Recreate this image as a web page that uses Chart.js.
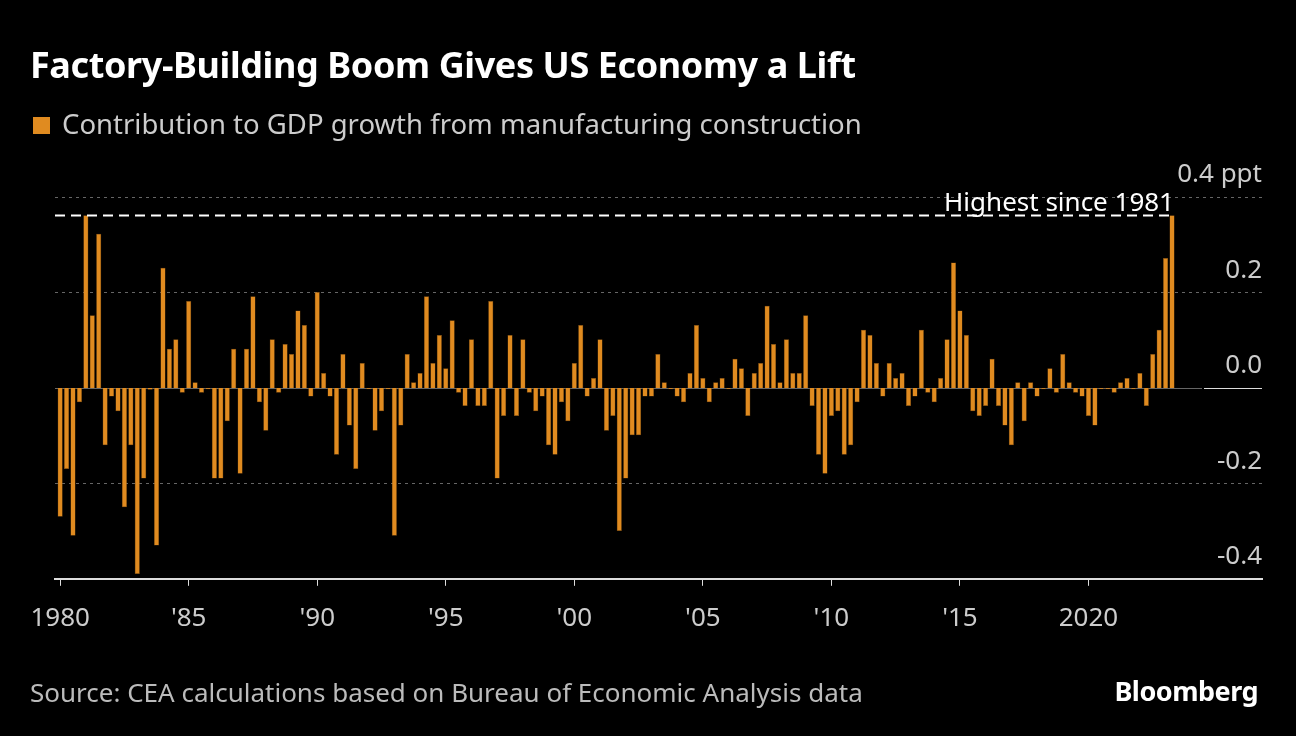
<!DOCTYPE html>
<html>
<head>
<meta charset="utf-8">
<script src="https://cdn.jsdelivr.net/npm/chart.js@4"></script>
<style>
  body { margin: 0; background: #000; width: 1296px; height: 736px; overflow: hidden; font-family: "Noto Sans", sans-serif; }
  #wrap { position: absolute; left: 0; top: 0; width: 1296px; height: 736px; }
  .title { position: absolute; left: 30px; top: 40px; color: #fff; font-size: 36px; font-weight: bold; letter-spacing: -0.4px; }
  .legend { position: absolute; left: 33px; top: 105px; color: #ccc; font-size: 27.5px; }
  .legend span { display: inline-block; width: 17px; height: 17px; background: #e08b20; margin-right: 12px; }
  .source { position: absolute; left: 30px; top: 674px; color: #bbb; font-size: 26px; }
  .brand { position: absolute; right: 38px; top: 672px; color: #fff; font-size: 27px; font-weight: bold; letter-spacing: -0.5px; }
</style>
</head>
<body>
<div id="wrap"><canvas id="chart" width="1296" height="736"></canvas></div>
<div class="title">Factory-Building Boom Gives US Economy a Lift</div>
<div class="legend"><span></span>Contribution to GDP growth from manufacturing construction</div>
<div class="source">Source: CEA calculations based on Bureau of Economic Analysis data</div>
<div class="brand">Bloomberg</div>
<script>
// quarterly values, 1980 Q1 onwards (ppt)
const startYear = 1980;
const contribution = [
  -0.27, -0.17, -0.31, -0.03, 0.362, 0.152, 0.323, -0.12,
  -0.018, -0.049, -0.25, -0.12, -0.39, -0.19, -0.004, -0.33,
  0.252, 0.082, 0.102, -0.01, 0.182, 0.012, -0.01, -0.003,
  -0.19, -0.19, -0.07, 0.082, -0.18, 0.082, 0.192, -0.03,
  -0.09, 0.102, -0.01, 0.092, 0.071, 0.162, 0.132, -0.018,
  0.201, 0.031, -0.018, -0.14, 0.071, -0.079, -0.17, 0.052,
  -0.003, -0.09, -0.049, -0.003, -0.31, -0.079, 0.071, 0.012,
  0.031, 0.192, 0.052, 0.111, 0.041, 0.142, -0.01, -0.038,
  0.102, -0.038, -0.038, 0.182, -0.19, -0.059, 0.111, -0.059,
  0.102, -0.01, -0.049, -0.018, -0.12, -0.14, -0.03, -0.07,
  0.052, 0.132, -0.018, 0.021, 0.102, -0.09, -0.059, -0.30,
  -0.19, -0.099, -0.099, -0.018, -0.018, 0.071, 0.012, -0.003,
  -0.018, -0.03, 0.031, 0.132, 0.021, -0.03, 0.012, 0.021,
  -0.003, 0.061, 0.041, -0.059, 0.031, 0.052, 0.172, 0.092,
  0.012, 0.102, 0.031, 0.031, 0.152, -0.038, -0.14, -0.18,
  -0.059, -0.049, -0.14, -0.12, -0.03, 0.122, 0.111, 0.052,
  -0.018, 0.052, 0.021, 0.031, -0.038, -0.018, 0.122, -0.01,
  -0.03, 0.021, 0.102, 0.263, 0.162, 0.111, -0.049, -0.059,
  -0.038, 0.061, -0.038, -0.079, -0.12, 0.012, -0.07, 0.012,
  -0.018, -0.003, 0.041, -0.01, 0.071, 0.012, -0.01, -0.018,
  -0.059, -0.079, -0.003, -0.003, -0.01, 0.012, 0.021, -0.003,
  0.031, -0.038, 0.071, 0.122, 0.272, 0.362
];
const xTickYears = [1980, 1985, 1990, 1995, 2000, 2005, 2010, 2015, 2020];
const xTickLabels = ["1980", "'85", "'90", "'95", "'00", "'05", "'10", "'15", "2020"];
const yTicks = [-0.4, -0.2, 0, 0.2, 0.4];
const yTickLabels = ["-0.4", "-0.2", "0.0", "0.2", "0.4 ppt"];
const highest = 0.362;
const highestLabel = "Highest since 1981";

const points = contribution.map((v, i) => ({ x: startYear + i / 4, y: v }));

const overlay = {
  id: "overlay",
  beforeDatasetsDraw(chart) {
    const { ctx, chartArea: a, scales: { y } } = chart;
    ctx.save();
    ctx.lineWidth = 1;
    yTicks.forEach(t => {
      if (t === 0 || t === -0.4) return;
      const py = Math.round(y.getPixelForValue(t)) + 0.5;
      ctx.strokeStyle = "#666";
      ctx.setLineDash([3, 4]);
      ctx.beginPath(); ctx.moveTo(a.left, py); ctx.lineTo(a.right, py); ctx.stroke();
    });
    ctx.setLineDash([]);
    const z = Math.round(y.getPixelForValue(0)) + 0.5;
    ctx.strokeStyle = "#666";
    ctx.beginPath(); ctx.moveTo(a.left, z); ctx.lineTo(a.right - 60, z); ctx.stroke();
    ctx.strokeStyle = "#ddd";
    ctx.beginPath(); ctx.moveTo(a.right - 58, z); ctx.lineTo(a.right, z); ctx.stroke();
    ctx.restore();
  },
  afterDatasetsDraw(chart) {
    const { ctx, chartArea: a, scales: { x, y } } = chart;
    ctx.save();
    ctx.font = "26px 'Noto Sans', sans-serif";
    ctx.fillStyle = "#ccc";
    ctx.textAlign = "right";
    ctx.textBaseline = "bottom";
    yTicks.forEach((t, i) => {
      ctx.fillText(yTickLabels[i], a.right, y.getPixelForValue(t) - 9);
    });
    const hy = Math.round(y.getPixelForValue(highest)) + 0.5;
    const endX = x.getPixelForValue(startYear + (contribution.length - 1) / 4) + 2;
    ctx.strokeStyle = "#fff";
    ctx.lineWidth = 2;
    ctx.setLineDash([10, 6]);
    ctx.beginPath(); ctx.moveTo(a.left, hy); ctx.lineTo(endX, hy); ctx.stroke();
    ctx.fillStyle = "#fff";
    ctx.fillText(highestLabel, endX, hy + 1);
    ctx.restore();
  }
};

new Chart(document.getElementById("chart"), {
  type: "bar",
  data: {
    datasets: [{
      data: points,
      backgroundColor: "#e08b20",
      borderColor: "#7a4a10",
      borderWidth: 0.5,
      barPercentage: 0.8,
      categoryPercentage: 1
    }]
  },
  options: {
    responsive: false,
    animation: false,
    layout: { padding: { left: 55, right: 34, top: 197, bottom: 85 } },
    plugins: { legend: { display: false }, tooltip: { enabled: false } },
    scales: {
      x: {
        type: "linear",
        offset: false,
        min: 1979.8,
        max: 2026.75,
        afterBuildTicks: s => { s.ticks = xTickYears.map(v => ({ value: v })); },
        ticks: {
          color: "#ccc",
          font: { size: 26, family: "'Noto Sans', sans-serif" },
          padding: 17,
          maxRotation: 0,
          autoSkip: false,
          callback: v => xTickLabels[xTickYears.indexOf(v)]
        },
        grid: { offset: false, drawOnChartArea: false, drawTicks: true, tickLength: 7, color: "#ddd" },
        border: { color: "#ddd", width: 2 }
      },
      y: { display: false, min: -0.4, max: 0.4 }
    }
  },
  plugins: [overlay]
});
</script>
</body>
</html>
